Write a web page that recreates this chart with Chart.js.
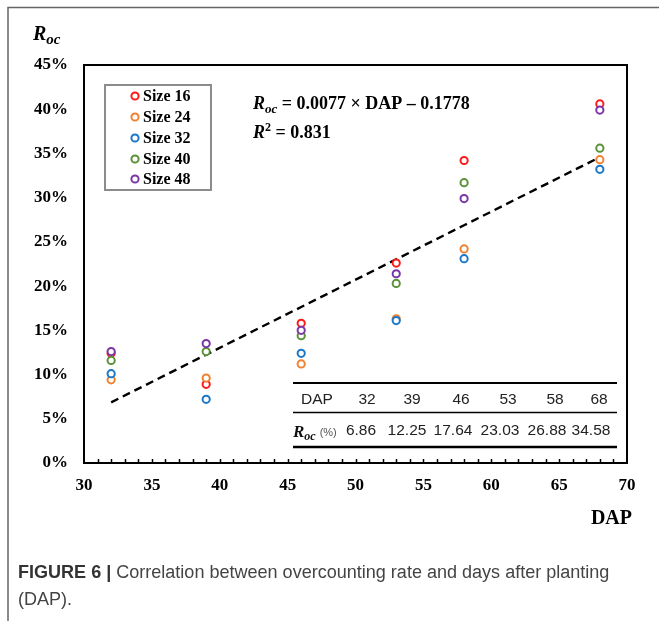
<!DOCTYPE html>
<html><head><meta charset="utf-8">
<script src="https://cdn.jsdelivr.net/npm/chart.js@4/dist/chart.umd.min.js"></script>
<style>html,body{margin:0;padding:0;background:#fff}#wrap{width:659px;height:621px;position:relative}canvas{display:block}</style>
</head><body><div id="wrap"><canvas id="c" width="659" height="621"></canvas></div>
<script>
// ---- data ----
const dapValues = [32, 39, 46, 53, 58, 68];
const seriesNames = ['Size 16', 'Size 24', 'Size 32', 'Size 40', 'Size 48'];
const size16 = [12.4, 8.9, 15.8, 22.6, 34.2, 40.6];
const size24 = [9.4, 9.6, 11.2, 16.3, 24.2, 34.3];
const size32 = [10.1, 7.2, 12.4, 16.1, 23.1, 33.2];
const size40 = [11.6, 12.6, 14.4, 20.3, 31.7, 35.6];
const size48 = [12.6, 13.5, 15.0, 21.4, 29.9, 39.9];
const fitValues = [6.86, 12.25, 17.64, 23.03, 26.88, 34.58];
const fitLabels = ['6.86', '12.25', '17.64', '23.03', '26.88', '34.58'];
const xMin = 30, xMax = 70, xStep = 5;
const yMin = 0, yMax = 45, yStep = 5;
const seriesColors = ['#ff1a1a', '#f0812e', '#1a78c8', '#5a9238', '#7a35a8'];

const allSeries = [size16, size24, size32, size40, size48];
const SERIF = '"Liberation Serif", "Times New Roman", serif';
const SANS = '"Liberation Sans", Arial, sans-serif';

const datasets = allSeries.map((vals, i) => ({
  type: 'scatter',
  label: seriesNames[i],
  data: dapValues.map((d, j) => ({x: d, y: vals[j]})),
  borderColor: seriesColors[i],
  backgroundColor: '#ffffff',
  pointRadius: 3.6,
  pointBorderWidth: 2,
  pointHoverRadius: 3.6,
  order: 5 - i
}));
datasets.push({
  type: 'line',
  label: 'fit',
  data: dapValues.map((d, j) => ({x: d, y: fitValues[j]})),
  borderColor: '#000',
  borderWidth: 2.4,
  borderDash: [8, 5],
  pointRadius: 0,
  fill: false,
  tension: 0,
  order: 10
});

function mixed(ctx, x, y, parts) {
  let cx = x;
  for (const p of parts) {
    ctx.font = p[1];
    ctx.fillText(p[0], cx, y + (p[2] || 0));
    cx += ctx.measureText(p[0]).width;
  }
  return cx;
}

const decor = {
  id: 'decor',
  beforeDraw(chart) {
    const ctx = chart.ctx;
    ctx.save();
    ctx.fillStyle = '#fff';
    ctx.fillRect(0, 0, chart.width, chart.height);
    ctx.strokeStyle = '#666';
    ctx.lineWidth = 1.5;
    ctx.beginPath();
    ctx.moveTo(8, 621); ctx.lineTo(8, 7.5); ctx.lineTo(659, 7.5);
    ctx.stroke();
    ctx.restore();
  },
  afterDatasetsDraw(chart) {
    const ctx = chart.ctx;
    const a = chart.chartArea;
    const xs = chart.scales.x;
    ctx.save();
    ctx.strokeStyle = '#000';
    ctx.lineWidth = 2;
    ctx.strokeRect(a.left, a.top, a.right - a.left, a.bottom - a.top);
    ctx.lineWidth = 1.5;
    ctx.beginPath();
    for (let v = xMin + 1; v < xMax; v++) {
      const px = Math.round(xs.getPixelForValue(v)) + 0.5;
      ctx.moveTo(px, a.bottom);
      ctx.lineTo(px, a.bottom - 4);
    }
    ctx.stroke();

    ctx.fillStyle = '#000';
    ctx.textBaseline = 'alphabetic';
    ctx.textAlign = 'left';
    mixed(ctx, 33, 40, [['R', 'italic bold 20px ' + SERIF, 0], ['oc', 'italic bold 15px ' + SERIF, 4]]);
    ctx.font = 'bold 20px ' + SERIF;
    ctx.textAlign = 'right';
    ctx.fillText('DAP', 632, 524);
    ctx.textAlign = 'left';

    mixed(ctx, 253, 109, [['R', 'italic bold 18px ' + SERIF, 0], ['oc', 'italic bold 13px ' + SERIF, 4], [' = 0.0077 \u00d7 DAP \u2013 0.1778', 'bold 18px ' + SERIF, 0]]);
    mixed(ctx, 253, 138, [['R', 'italic bold 18px ' + SERIF, 0], ['2', 'bold 12px ' + SERIF, -7], [' = 0.831', 'bold 18px ' + SERIF, 0]]);

    ctx.fillStyle = '#fff';
    ctx.fillRect(105, 85, 106, 105);
    ctx.strokeStyle = '#8c8c8c';
    ctx.lineWidth = 2;
    ctx.strokeRect(105, 85, 106, 105);
    const rows = [96, 117, 138, 159, 179];
    chart.data.datasets.forEach((ds, i) => {
      if (ds.type !== 'scatter') return;
      const y = rows[i];
      ctx.beginPath();
      ctx.arc(135, y, 3.6, 0, Math.PI * 2);
      ctx.fillStyle = '#fff';
      ctx.fill();
      ctx.strokeStyle = ds.borderColor;
      ctx.lineWidth = 2;
      ctx.stroke();
      ctx.fillStyle = '#000';
      ctx.font = 'bold 16px ' + SERIF;
      ctx.textBaseline = 'middle';
      ctx.fillText(ds.label, 143, y + 1);
    });

    ctx.strokeStyle = '#000';
    ctx.lineWidth = 2;
    ctx.beginPath(); ctx.moveTo(293, 383); ctx.lineTo(617, 383); ctx.stroke();
    ctx.lineWidth = 1.6;
    ctx.beginPath(); ctx.moveTo(293, 412.5); ctx.lineTo(617, 412.5); ctx.stroke();
    ctx.lineWidth = 2.6;
    ctx.beginPath(); ctx.moveTo(293, 447); ctx.lineTo(617, 447); ctx.stroke();
    ctx.fillStyle = '#222';
    ctx.textBaseline = 'middle';
    ctx.textAlign = 'center';
    ctx.font = '15.5px ' + SANS;
    ctx.fillText('DAP', 317, 400);
    const hx = [367, 412, 461, 508, 555, 599];
    const vx = [361, 407, 453, 500, 547, 591];
    dapValues.forEach((d, j) => ctx.fillText(String(d), hx[j], 400));
    fitLabels.forEach((t, j) => ctx.fillText(t, vx[j], 431));
    ctx.textAlign = 'left';
    ctx.textBaseline = 'alphabetic';
    ctx.fillStyle = '#111';
    let ex = mixed(ctx, 293, 437, [['R', 'italic bold 17px ' + SERIF, 0], ['oc', 'italic bold 12px ' + SERIF, 3]]);
    ctx.fillStyle = '#555';
    ctx.font = '11px ' + SANS;
    ctx.fillText('(%)', ex + 4, 436);

    const cap1b = 'FIGURE 6 | ';
    const cap1 = 'Correlation between overcounting rate and days after planting';
    let fs = 17;
    ctx.font = 'bold ' + fs + 'px ' + SANS;
    let w = ctx.measureText(cap1b).width;
    ctx.font = fs + 'px ' + SANS;
    w += ctx.measureText(cap1).width;
    fs = fs * 592 / w;
    ctx.fillStyle = '#333';
    ctx.textBaseline = 'middle';
    ctx.font = 'bold ' + fs + 'px ' + SANS;
    ctx.fillText(cap1b, 18, 573);
    const bw = ctx.measureText(cap1b).width;
    ctx.fillStyle = '#444';
    ctx.font = fs + 'px ' + SANS;
    ctx.fillText(cap1, 18 + bw, 573);
    ctx.fillText('(DAP).', 18, 600);
    ctx.restore();
  }
};

new Chart(document.getElementById('c'), {
  type: 'scatter',
  data: { datasets },
  plugins: [decor],
  options: {
    responsive: false,
    animation: false,
    devicePixelRatio: 1,
    layout: { padding: { left: 0, top: 65, right: 32, bottom: 0 } },
    plugins: { legend: { display: false }, tooltip: { enabled: false } },
    scales: {
      x: {
        type: 'linear', min: xMin, max: xMax,
        ticks: { stepSize: xStep, color: '#000', font: { family: SERIF, weight: 'bold', size: 17 }, padding: 12, maxRotation: 0 },
        grid: { display: false, drawTicks: false },
        border: { display: false },
        afterFit: s => { s.height = 158; }
      },
      y: {
        type: 'linear', min: yMin, max: yMax,
        ticks: { stepSize: yStep, color: '#000', font: { family: SERIF, weight: 'bold', size: 17 }, padding: 16, callback: v => v + '%' },
        grid: { display: false, drawTicks: false },
        border: { display: false },
        afterFit: s => { s.width = 84; }
      }
    }
  }
});
</script>
</body></html>
